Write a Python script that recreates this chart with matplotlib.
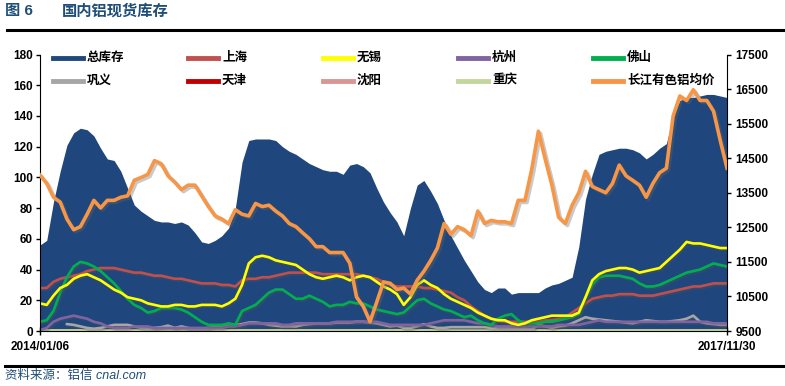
#domestic aluminium spot inventory vs changjiang price
import matplotlib
matplotlib.use('Agg')
import matplotlib.pyplot as plt
import matplotlib.patheffects as pe
from matplotlib.lines import Line2D
import pandas as pd

plt.rcParams['font.family'] = ['Liberation Sans', 'Noto Sans CJK SC']

# roughly every two weeks, 2014/01/06 .. 2017/11/30
dates = pd.date_range('2014-01-06', '2017-11-30', periods=103)

total = [56, 59, 84, 104, 121, 129, 132, 131, 127, 119,
         112, 111, 104, 93, 82, 78, 75, 72, 71, 71,
         70, 71, 69, 64, 58, 57, 59, 62, 67, 80,
         110, 124, 125, 125, 125, 124, 120, 117, 115, 112,
         109, 107, 105, 104, 104, 102, 108, 109, 107, 103,
         93, 84, 77, 71, 62, 80, 95, 98, 91, 83,
         72, 62, 54, 46, 39, 32, 27, 25, 28, 28,
         24, 25, 25, 25, 25, 28, 30, 31, 33, 35,
         55, 86, 102, 115, 117, 118, 119, 119, 118, 116,
         112, 115, 119, 122, 140, 150, 152, 152, 153, 154,
         154, 153, 152]

shanghai = [28, 28, 32, 34, 35, 36, 37, 39, 40, 41,
            41, 41, 40, 39, 38, 38, 37, 36, 36, 35,
            34, 34, 33, 32, 31, 31, 31, 30, 30, 29,
            33, 34, 34, 35, 35, 36, 37, 38, 38, 38,
            38, 38, 37, 37, 37, 37, 37, 37, 36, 35,
            34, 32, 30, 29, 29, 29, 29, 28, 28, 27,
            26, 25, 22, 20, 16, 13, 10, 8, 7, 6,
            6, 6, 6, 6, 6, 7, 7, 8, 9, 12,
            15, 18, 21, 22, 23, 23, 24, 24, 24, 23,
            23, 23, 24, 25, 26, 27, 28, 29, 29, 30,
            31, 31, 31]

wuxi = [18, 17, 23, 28, 30, 34, 36, 37, 35, 33,
        30, 27, 25, 22, 21, 20, 18, 17, 16, 16,
        17, 17, 16, 16, 17, 17, 17, 16, 18, 21,
        30, 44, 48, 49, 48, 46, 45, 44, 43, 40,
        37, 35, 34, 35, 36, 35, 33, 35, 36, 35,
        32, 29, 27, 24, 17, 22, 30, 33, 30, 28,
        24, 21, 19, 17, 15, 12, 10, 8, 7, 7,
        5, 4, 5, 7, 8, 9, 10, 10, 10, 10,
        12, 22, 33, 37, 39, 40, 41, 41, 40, 38,
        39, 40, 41, 45, 49, 53, 58, 57, 57, 56,
        55, 54, 54]

hangzhou = [0.5, 2, 6, 8, 9, 10, 9, 8, 6, 5,
            3, 2, 2, 2, 3, 3, 3, 2, 2, 2,
            2, 2, 2, 2, 2, 2, 2, 2, 3, 3,
            4, 5, 5, 5, 5, 5, 4, 4, 5, 5,
            5, 5, 5, 5, 6, 6, 6, 6, 6, 6,
            6, 5, 4, 4, 4, 4, 4, 4, 5, 6,
            7, 7, 7, 7, 6, 5, 5, 4, 3, 3,
            3, 3, 3, 3, 3, 3, 3, 4, 4, 4,
            4, 5, 6, 7, 6, 6, 6, 6, 6, 6,
            6, 6, 6, 6, 6, 6, 6, 6, 6, 6,
            5, 5, 5]

foshan = [6, 7, 13, 25, 35, 42, 45, 44, 42, 39,
          35, 31, 26, 21, 17, 15, 12, 13, 15, 15,
          15, 14, 12, 9, 6, 4, 4, 4, 5, 4,
          13, 15, 17, 21, 25, 27, 27, 24, 21, 21,
          23, 21, 19, 16, 17, 17, 19, 18, 18, 16,
          14, 13, 12, 11, 12, 16, 20, 21, 18, 16,
          14, 13, 11, 9, 10, 7, 5, 4, 8, 10,
          11, 7, 5, 5, 5, 6, 6, 7, 8, 9,
          11, 22, 30, 35, 36, 36, 36, 35, 34, 31,
          29, 29, 30, 32, 34, 36, 38, 39, 40, 42,
          44, 43, 42]

# gongyi starts a few weeks late
gongyi = [None, None, None, None, 4.5, 4, 3, 2, 1.5, 2,
          3, 4, 4, 4, 3, 2, 1.5, 2, 2.5, 3.5,
          2, 3, 2, 1, 1.5, 2, 3, 3, 3.5, 4,
          4.5, 5.5, 5.5, 5, 4, 3.5, 3, 3, 3, 4,
          4.5, 5, 5, 5, 5.5, 5.5, 5.5, 6, 6, 5.5,
          5, 4, 3, 3.5, 2, 2, 3, 4.5, 3, 2,
          2, 2.5, 2.5, 2.5, 2.5, 2.5, 2.5, 2, 2, 2,
          1.5, 1.5, 1.5, 1, 4, 3, 2, 3, 3.5, 5,
          7, 9, 8, 7.5, 7, 6.5, 6, 5.5, 5, 6,
          7, 6.5, 6, 6, 6.5, 7, 8, 10, 6, 5,
          4.5, 4, 4]

# tianjin / shenyang / chongqing sit at the bottom, hidden under the rest
tianjin = [0.5] * len(dates)
shenyang = [0.5] * len(dates)
chongqing = [0.5] * len(dates)

price = [14010, 13770, 13370, 13230, 12740, 12430, 12520, 12880, 13280, 13060,
         13280, 13280, 13370, 13410, 13860, 13940, 14030, 14430, 14340, 13990,
         13810, 13590, 13720, 13720, 13410, 13100, 12830, 12740, 12610, 13010,
         12880, 12830, 13190, 13100, 13140, 12970, 12830, 12610, 12520, 12340,
         12170, 11940, 11940, 11770, 11770, 11770, 11460, 10480, 10210, 9770,
         10340, 10920, 10880, 10700, 10740, 10570, 10970, 11230, 11540, 11900,
         12610, 12300, 12520, 12430, 12260, 12970, 12610, 12700, 12660, 12660,
         12610, 13280, 13280, 14170, 15280, 14480, 13720, 12790, 12610, 13140,
         13500, 14120, 13680, 13590, 13500, 13770, 14300, 13990, 13860, 13720,
         13370, 13770, 14080, 14210, 15720, 16300, 16170, 16480, 16170, 16170,
         15860, 15010, 14210]

names = ['总库存', '上海', '无锡', '杭州', '佛山',
         '巩义', '天津', '沈阳', '重庆', '长江有色铝均价']
colors = ['#1F497D', '#C0504D', '#FFFF00', '#8064A2', '#00B050',
          '#A6A6A6', '#C00000', '#D99694', '#C3D69B', '#F79646']

W, H = 785, 386
fig = plt.figure(figsize=(W / 100, H / 100), dpi=100)
ax = fig.add_axes([40 / W, 1 - 331 / H, 687 / W, (331 - 54.5) / H])

shadow = [pe.SimpleLineShadow(offset=(1.2, -1.2), shadow_color='#555555', alpha=0.35), pe.Normal()]

ax.fill_between(dates, total, 0, color='#1F477D', lw=0, zorder=1)
series = [shanghai, wuxi, hangzhou, foshan, gongyi, tianjin, shenyang, chongqing]
order = [6, 7, 8, 5, 3, 1, 4, 2]   # draw hidden ones first
for k in order:
    vals = pd.Series(series[k - 1], dtype='float')
    ax.plot(dates, vals, color=colors[k], lw=1.9, zorder=2, path_effects=shadow)

ax.set_xlim(dates[0], dates[-1])
ax.set_ylim(0, 180)
ax.set_yticks(range(0, 181, 20))
ax.set_xticks([dates[0], dates[-1]])
ax.set_xticklabels(['2014/01/06', '2017/11/30'])
for s in ['top', 'right']:
    ax.spines[s].set_visible(False)
ax.tick_params(axis='y', direction='out', length=3, width=1, labelsize=8.5, pad=2)
ax.tick_params(axis='x', direction='inout', length=6, width=1, labelsize=8.5, pad=4)
for lab in ax.get_xticklabels() + ax.get_yticklabels():
    lab.set_fontweight('bold')

ax2 = ax.twinx()
ax2.plot(dates, price, color=colors[9], lw=2.6, zorder=3,
         path_effects=[pe.SimpleLineShadow(offset=(1.5, -1.5), shadow_color='#666666', alpha=0.35), pe.Normal()])
ax2.set_ylim(9500, 17500)
ax2.set_yticks(range(9500, 17501, 1000))
for s in ['top', 'left', 'bottom']:
    ax2.spines[s].set_visible(False)
ax2.tick_params(axis='y', direction='out', length=3, width=1, labelsize=8.5, pad=3)
for lab in ax2.get_yticklabels():
    lab.set_fontweight('bold')

# legend, 2 rows x 5 columns
for i, (n, c) in enumerate(zip(names, colors)):
    row, col = divmod(i, 5)
    x0 = 53 + col * 135
    y0 = 1 - (57.5 + row * 23) / H
    fig.add_artist(Line2D([x0 / W, (x0 + 30) / W], [y0, y0], color=c, lw=3.5,
                          transform=fig.transFigure))
    fig.text((x0 + 34) / W, y0, n, fontsize=9, fontweight='bold', va='center', ha='left')

# title and rules
fig.text(5 / W, 1 - 11 / H, '图 6', fontsize=11, fontweight='bold', color='#1F4E79', va='center')
fig.text(62 / W, 1 - 11 / H, '国内铝现货库存', fontsize=11, fontweight='bold', color='#1F4E79', va='center')
fig.add_artist(Line2D([7 / W, 1], [1 - 30 / H] * 2, color='black', lw=2.2, transform=fig.transFigure))
fig.add_artist(Line2D([5 / W, 1], [1 - 366 / H] * 2, color='black', lw=2.2, transform=fig.transFigure))
fig.text(5 / W, 1 - 376 / H, '资料来源：铝信 cnal.com', fontsize=9, style='italic',
         color='#1F4E79', va='center')

fig.savefig('out.png', dpi=100)
